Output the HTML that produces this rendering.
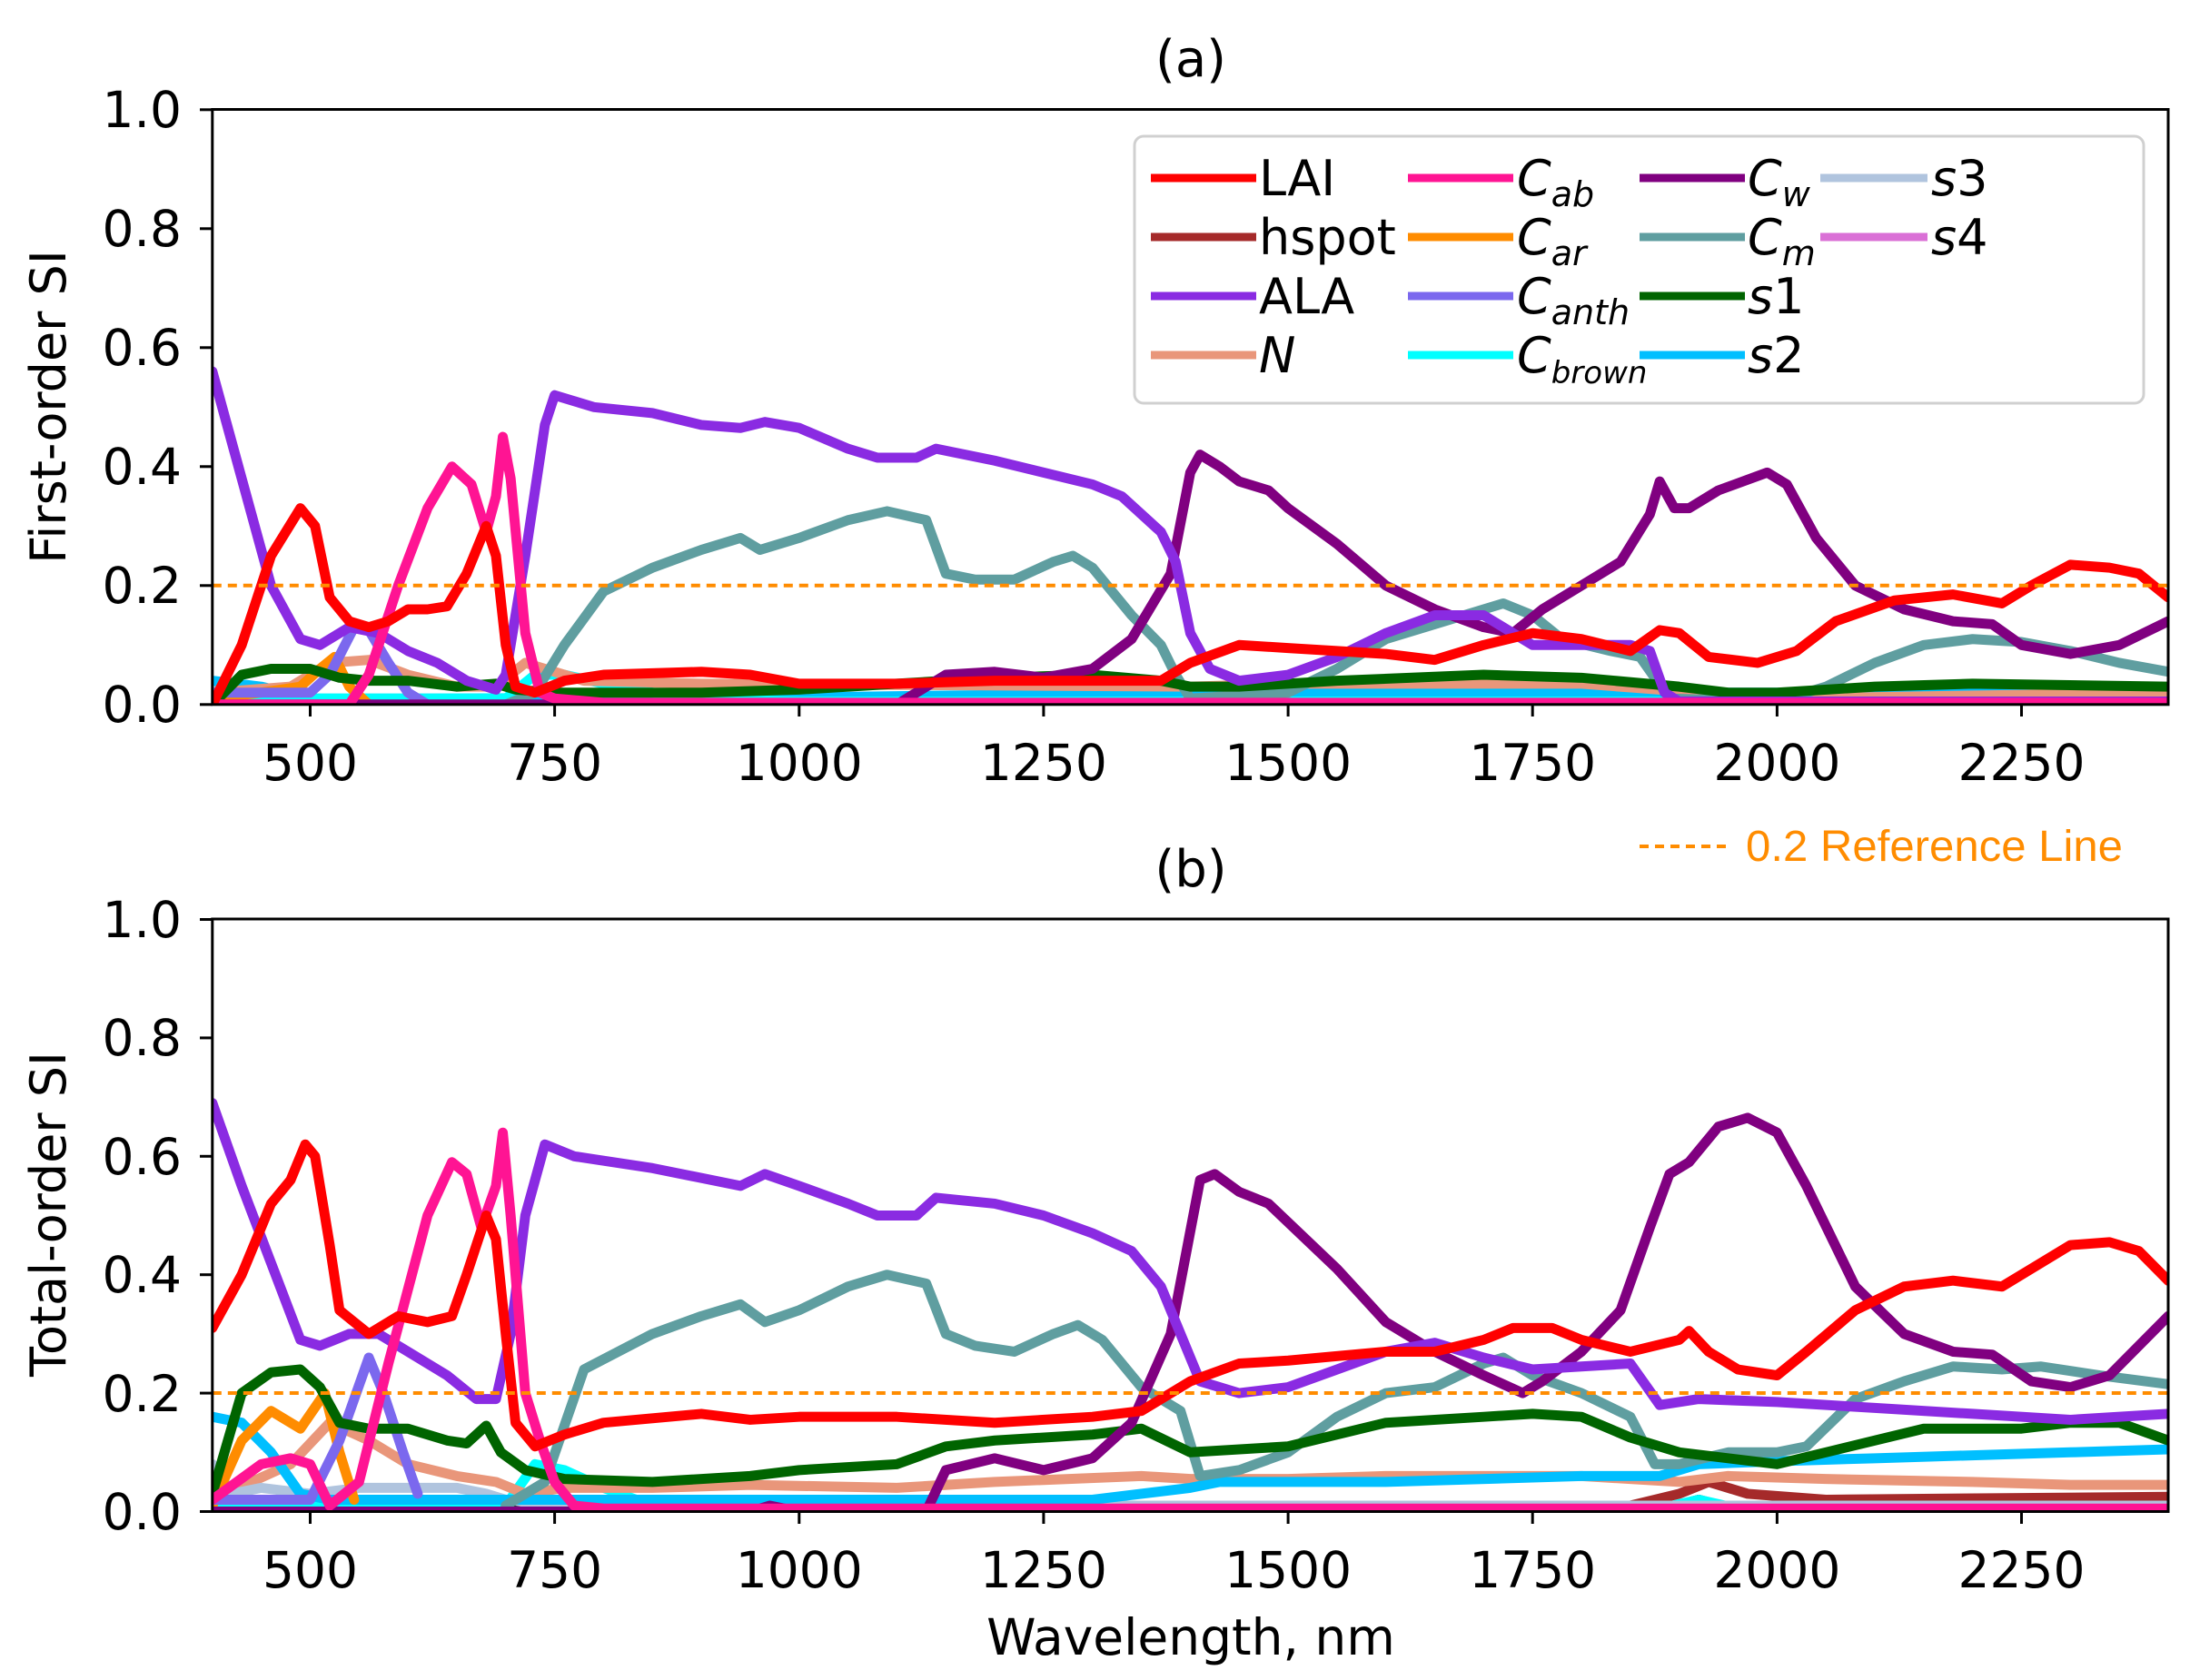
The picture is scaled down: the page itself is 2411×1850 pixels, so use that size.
<!DOCTYPE html>
<html><head><meta charset="utf-8"><style>
html,body{margin:0;padding:0;background:#fff}
svg{display:block}
text{font-family:"DejaVu Sans","Liberation Sans",sans-serif;fill:#000}
.d polyline{fill:none;stroke-width:11;stroke-linejoin:round;stroke-linecap:round;vector-effect:non-scaling-stroke}
</style></head><body>
<svg width="2411" height="1850" viewBox="0 0 2411 1850" xmlns="http://www.w3.org/2000/svg">
<defs>
<clipPath id="ca"><rect x="233.8" y="120" width="2153" height="656"/></clipPath>
<clipPath id="cb"><rect x="233.8" y="1012" width="2153" height="653"/></clipPath>
</defs>

<text x="1311" y="84" font-size="56" text-anchor="middle">(a)</text>
<text x="1311" y="976" font-size="56" text-anchor="middle">(b)</text>

<g clip-path="url(#ca)">
<g class="d" transform="translate(233.8,775.8) scale(1.0766,-655) translate(-400,0)">
<polyline stroke="#000" points="400,0 2400,0"/>
<polyline stroke="#a52a2a" points="400,0.003 2400,0.003"/>
<polyline stroke="#da70d6" points="400,0.004 2400,0.004"/>
<polyline stroke="#b0c4de" points="400,0.04 420,0.01 450,0.005 2400,0.005"/>
<polyline stroke="#00bfff" points="400,0.04 450,0.03 500,0.01 600,0.01 1000,0.012 1400,0.02 2400,0.02"/>
<polyline stroke="#00ffff" points="400,0.01 700,0.01 730,0.05 760,0.05 800,0.035 850,0.02 900,0.01 1000,0.005 2400,0.005"/>
<polyline stroke="#e9967a" points="400,0.02 480,0.03 520,0.07 560,0.075 600,0.05 650,0.03 690,0.03 720,0.07 740,0.06 780,0.04 900,0.035 1400,0.03 1500,0.035 1800,0.035 2000,0.01 2400,0.02"/>
<polyline stroke="#ff8c00" points="400,0.01 450,0.02 490,0.03 510,0.06 525,0.08 540,0.03 560,0.0"/>
<polyline stroke="#7b68ee" points="400,0.02 500,0.02 520,0.05 545,0.13 560,0.125 580,0.07 600,0.02 620,0.0"/>
<polyline stroke="#5f9ea0" points="700,0 730,0.02 760,0.1 800,0.19 850,0.23 900,0.26 940,0.28 960,0.26 1000,0.28 1050,0.31 1090,0.325 1130,0.31 1150,0.22 1180,0.21 1220,0.21 1260,0.24 1280,0.25 1300,0.23 1340,0.15 1370,0.1 1385,0.05 1400,0.01 1500,0.02 1550,0.06 1600,0.11 1650,0.135 1700,0.16 1720,0.17 1750,0.15 1780,0.11 1830,0.09 1860,0.08 1890,0.01 2000,0.005 2050,0.03 2100,0.07 2150,0.1 2200,0.11 2250,0.105 2300,0.09 2350,0.07 2400,0.055"/>
<polyline stroke="#006400" points="400,0.0 430,0.05 460,0.06 500,0.06 530,0.045 560,0.04 600,0.04 650,0.03 690,0.035 710,0.025 750,0.02 900,0.02 1000,0.025 1100,0.035 1200,0.045 1300,0.05 1370,0.04 1400,0.03 1450,0.03 1550,0.04 1700,0.05 1800,0.045 1900,0.03 1950,0.02 2000,0.02 2100,0.03 2200,0.035 2400,0.03"/>
<polyline stroke="#800080" points="400,0 1100,0 1150,0.05 1200,0.055 1250,0.045 1300,0.06 1340,0.11 1380,0.22 1400,0.39 1410,0.42 1430,0.4 1450,0.375 1480,0.36 1500,0.33 1550,0.27 1600,0.2 1650,0.16 1700,0.13 1730,0.12 1760,0.16 1800,0.2 1840,0.24 1870,0.32 1880,0.375 1895,0.33 1910,0.33 1940,0.36 1990,0.39 2010,0.37 2040,0.28 2080,0.2 2130,0.16 2180,0.14 2220,0.135 2250,0.1 2300,0.085 2350,0.1 2400,0.14"/>
<polyline stroke="#8a2be2" points="400,0.56 430,0.38 460,0.2 490,0.11 510,0.1 540,0.13 570,0.12 600,0.09 630,0.07 660,0.04 680,0.03 690,0.025 700,0.05 720,0.25 740,0.47 750,0.52 770,0.51 790,0.5 850,0.49 900,0.47 940,0.465 965,0.475 1000,0.465 1050,0.43 1080,0.415 1120,0.415 1140,0.43 1200,0.41 1250,0.39 1300,0.37 1330,0.35 1370,0.29 1385,0.24 1400,0.12 1420,0.06 1450,0.04 1500,0.05 1550,0.08 1600,0.12 1650,0.15 1700,0.15 1750,0.1 1800,0.1 1850,0.1 1870,0.09 1885,0.02 1900,0.005 2400,0.005"/>
<polyline stroke="#ff1493" points="400,0 540,0 560,0.05 590,0.2 620,0.33 645,0.4 665,0.37 680,0.29 690,0.35 697,0.45 705,0.38 720,0.12 735,0.02 750,0.01 800,0.003 2400,0.003"/>
<polyline stroke="#ff0000" points="400,0.0 430,0.1 460,0.25 490,0.33 505,0.3 520,0.18 540,0.14 560,0.13 580,0.14 600,0.16 620,0.16 640,0.165 660,0.22 680,0.3 690,0.25 700,0.1 710,0.03 730,0.02 760,0.04 800,0.05 900,0.055 950,0.05 1000,0.035 1100,0.035 1200,0.04 1300,0.04 1370,0.04 1400,0.07 1450,0.1 1500,0.095 1550,0.09 1600,0.085 1650,0.075 1700,0.1 1750,0.12 1800,0.11 1850,0.09 1880,0.125 1900,0.12 1930,0.08 1980,0.07 2020,0.09 2060,0.14 2120,0.175 2180,0.185 2230,0.17 2260,0.2 2300,0.235 2340,0.23 2370,0.22 2400,0.18"/>
</g>
<line x1="233.8" y1="644.8" x2="2387" y2="644.8" stroke="#ff8c00" stroke-width="4" stroke-dasharray="10,7"/>
</g>

<g clip-path="url(#cb)">
<g class="d" transform="translate(233.8,1664.5) scale(1.0766,-652) translate(-400,0)">
<polyline stroke="#a52a2a" points="400,0.01 1850,0.01 1900,0.03 1930,0.05 1970,0.03 2050,0.02 2400,0.025"/>
<polyline stroke="#da70d6" points="400,0.01 2400,0.008"/>
<polyline stroke="#000" points="400,0.003 660,0.003 680,0.02 700,0.003 1880,0.003 1920,0.02 1960,0.003 2400,0.003"/>
<polyline stroke="#00ffff" points="400,0.01 700,0.01 730,0.08 760,0.07 800,0.04 850,0.01 900,0.005 1880,0.005 1920,0.02 1960,0.005 2400,0.005"/>
<polyline stroke="#e9967a" points="400,0.02 480,0.08 520,0.15 560,0.12 600,0.08 650,0.06 690,0.05 720,0.03 760,0.04 850,0.04 950,0.045 1100,0.04 1200,0.05 1350,0.06 1400,0.055 1500,0.055 1600,0.06 1800,0.06 1900,0.05 1950,0.06 2050,0.055 2200,0.05 2300,0.045 2400,0.045"/>
<polyline stroke="#b0c4de" points="400,0.08 420,0.03 450,0.04 500,0.03 550,0.04 650,0.04 680,0.03 700,0.02 750,0.01 2400,0.01"/>
<polyline stroke="#00bfff" points="400,0.16 430,0.15 460,0.1 490,0.03 520,0.02 700,0.02 1300,0.02 1400,0.04 1430,0.05 1600,0.05 1800,0.06 1880,0.06 1920,0.08 2000,0.085 2100,0.09 2300,0.1 2400,0.105"/>
<polyline stroke="#ff8c00" points="400,0.01 430,0.12 460,0.17 490,0.14 515,0.2 530,0.1 545,0.02"/>
<polyline stroke="#7b68ee" points="400,0.02 500,0.02 530,0.12 560,0.26 575,0.2 595,0.1 610,0.03"/>
<polyline stroke="#5f9ea0" points="700,0.01 740,0.05 780,0.24 850,0.3 900,0.33 940,0.35 965,0.32 1000,0.34 1050,0.38 1090,0.4 1130,0.385 1150,0.3 1180,0.28 1220,0.27 1260,0.3 1285,0.315 1310,0.29 1350,0.21 1390,0.17 1410,0.06 1450,0.07 1500,0.1 1550,0.16 1600,0.2 1650,0.21 1700,0.25 1720,0.26 1750,0.23 1800,0.2 1850,0.16 1875,0.08 1900,0.08 1950,0.1 2000,0.1 2030,0.11 2080,0.19 2130,0.22 2180,0.245 2230,0.24 2270,0.245 2330,0.23 2400,0.215"/>
<polyline stroke="#006400" points="400,0.03 430,0.2 460,0.235 490,0.24 510,0.21 530,0.15 560,0.14 600,0.14 640,0.12 660,0.115 680,0.145 695,0.1 720,0.07 760,0.055 850,0.05 950,0.06 1000,0.07 1100,0.08 1150,0.11 1200,0.12 1300,0.13 1350,0.14 1400,0.1 1500,0.11 1600,0.15 1700,0.16 1750,0.165 1800,0.16 1850,0.125 1900,0.1 2000,0.08 2050,0.1 2100,0.12 2150,0.14 2250,0.14 2300,0.15 2350,0.15 2400,0.12"/>
<polyline stroke="#800080" points="400,0 950,0 970,0.01 1000,0 1130,0 1150,0.07 1200,0.09 1250,0.07 1300,0.09 1340,0.15 1380,0.3 1410,0.56 1425,0.57 1450,0.54 1480,0.52 1550,0.41 1600,0.32 1650,0.27 1700,0.23 1740,0.2 1760,0.22 1800,0.27 1840,0.34 1870,0.48 1890,0.57 1910,0.59 1940,0.65 1970,0.665 2000,0.64 2030,0.55 2080,0.38 2130,0.3 2180,0.27 2220,0.265 2260,0.22 2300,0.21 2340,0.23 2400,0.33"/>
<polyline stroke="#8a2be2" points="400,0.69 430,0.55 460,0.42 490,0.29 510,0.28 540,0.3 570,0.3 600,0.27 640,0.23 670,0.19 690,0.19 705,0.3 720,0.5 740,0.62 770,0.6 850,0.58 940,0.55 965,0.57 1000,0.55 1050,0.52 1080,0.5 1120,0.5 1140,0.53 1200,0.52 1250,0.5 1300,0.47 1340,0.44 1370,0.38 1390,0.3 1410,0.22 1450,0.2 1500,0.21 1550,0.24 1600,0.27 1650,0.285 1700,0.26 1750,0.24 1800,0.245 1850,0.25 1880,0.18 1920,0.19 2000,0.185 2100,0.175 2200,0.165 2300,0.155 2400,0.165"/>
<polyline stroke="#ff1493" points="400,0.02 450,0.08 480,0.09 500,0.08 520,0.01 550,0.05 580,0.25 620,0.5 645,0.59 660,0.57 675,0.48 690,0.55 697,0.64 705,0.5 720,0.2 735,0.12 750,0.05 770,0.01 800,0.005 2400,0.005"/>
<polyline stroke="#ff0000" points="400,0.31 430,0.4 460,0.52 480,0.56 495,0.62 505,0.6 520,0.45 530,0.34 545,0.32 560,0.3 590,0.33 620,0.32 645,0.33 660,0.4 680,0.5 690,0.46 700,0.3 710,0.15 730,0.11 760,0.13 800,0.15 900,0.165 950,0.155 1000,0.16 1100,0.16 1200,0.15 1300,0.16 1350,0.17 1400,0.22 1450,0.25 1500,0.255 1600,0.27 1650,0.27 1700,0.29 1730,0.31 1770,0.31 1800,0.29 1850,0.27 1900,0.29 1910,0.305 1930,0.27 1960,0.24 2000,0.23 2030,0.27 2080,0.34 2130,0.38 2180,0.39 2230,0.38 2260,0.41 2300,0.45 2340,0.455 2370,0.44 2400,0.39"/>
</g>
<line x1="233.8" y1="1534" x2="2387" y2="1534" stroke="#ff8c00" stroke-width="4" stroke-dasharray="10,7"/>
</g>

<g fill="none" stroke="#000" stroke-width="3">
<rect x="233.8" y="120.5" width="2153.2" height="655.3"/>
<rect x="233.8" y="1012" width="2153.2" height="652.5"/>
</g>

<g stroke="#000" stroke-width="3">
<line x1="220" y1="775.8" x2="233.8" y2="775.8"/><line x1="220" y1="644.8" x2="233.8" y2="644.8"/><line x1="220" y1="513.8" x2="233.8" y2="513.8"/><line x1="220" y1="382.8" x2="233.8" y2="382.8"/><line x1="220" y1="251.8" x2="233.8" y2="251.8"/><line x1="220" y1="120.8" x2="233.8" y2="120.8"/>
<line x1="341.5" y1="775.8" x2="341.5" y2="789"/><line x1="610.6" y1="775.8" x2="610.6" y2="789"/><line x1="879.8" y1="775.8" x2="879.8" y2="789"/><line x1="1148.9" y1="775.8" x2="1148.9" y2="789"/><line x1="1418.1" y1="775.8" x2="1418.1" y2="789"/><line x1="1687.2" y1="775.8" x2="1687.2" y2="789"/><line x1="1956.4" y1="775.8" x2="1956.4" y2="789"/><line x1="2225.5" y1="775.8" x2="2225.5" y2="789"/>
<line x1="220" y1="1664.5" x2="233.8" y2="1664.5"/><line x1="220" y1="1534.1" x2="233.8" y2="1534.1"/><line x1="220" y1="1403.7" x2="233.8" y2="1403.7"/><line x1="220" y1="1273.3" x2="233.8" y2="1273.3"/><line x1="220" y1="1142.9" x2="233.8" y2="1142.9"/><line x1="220" y1="1012.5" x2="233.8" y2="1012.5"/>
<line x1="341.5" y1="1664.5" x2="341.5" y2="1678"/><line x1="610.6" y1="1664.5" x2="610.6" y2="1678"/><line x1="879.8" y1="1664.5" x2="879.8" y2="1678"/><line x1="1148.9" y1="1664.5" x2="1148.9" y2="1678"/><line x1="1418.1" y1="1664.5" x2="1418.1" y2="1678"/><line x1="1687.2" y1="1664.5" x2="1687.2" y2="1678"/><line x1="1956.4" y1="1664.5" x2="1956.4" y2="1678"/><line x1="2225.5" y1="1664.5" x2="2225.5" y2="1678"/>
</g>
<g font-size="55" text-anchor="end">
<text x="200" y="795">0.0</text><text x="200" y="664">0.2</text><text x="200" y="533">0.4</text><text x="200" y="402">0.6</text><text x="200" y="271">0.8</text><text x="200" y="140">1.0</text>
<text x="200" y="1684">0.0</text><text x="200" y="1554">0.2</text><text x="200" y="1423">0.4</text><text x="200" y="1293">0.6</text><text x="200" y="1162">0.8</text><text x="200" y="1032">1.0</text>
</g>
<g font-size="55" text-anchor="middle">
<text x="341.5" y="859">500</text><text x="610.6" y="859">750</text><text x="879.8" y="859">1000</text><text x="1148.9" y="859">1250</text><text x="1418.1" y="859">1500</text><text x="1687.2" y="859">1750</text><text x="1956.4" y="859">2000</text><text x="2225.5" y="859">2250</text>
<text x="341.5" y="1748">500</text><text x="610.6" y="1748">750</text><text x="879.8" y="1748">1000</text><text x="1148.9" y="1748">1250</text><text x="1418.1" y="1748">1500</text><text x="1687.2" y="1748">1750</text><text x="1956.4" y="1748">2000</text><text x="2225.5" y="1748">2250</text>
<text x="1311" y="1822" font-size="55">Wavelength, nm</text>
<text transform="translate(72,448) rotate(-90)" font-size="54">First-order SI</text>
<text transform="translate(72,1337) rotate(-90)" font-size="54">Total-order SI</text>
</g>

<rect x="1249" y="150" width="1111" height="294" rx="10" fill="#fff" fill-opacity="0.85" stroke="#d0d0d0" stroke-width="3"/>
<g stroke-width="9">
<line x1="1267" y1="196" x2="1383" y2="196" stroke="#ff0000"/>
<line x1="1267" y1="261" x2="1383" y2="261" stroke="#a52a2a"/>
<line x1="1267" y1="326" x2="1383" y2="326" stroke="#8a2be2"/>
<line x1="1267" y1="391" x2="1383" y2="391" stroke="#e9967a"/>
<line x1="1550" y1="196" x2="1666" y2="196" stroke="#ff1493"/>
<line x1="1550" y1="261" x2="1666" y2="261" stroke="#ff8c00"/>
<line x1="1550" y1="326" x2="1666" y2="326" stroke="#7b68ee"/>
<line x1="1550" y1="391" x2="1666" y2="391" stroke="#00ffff"/>
<line x1="1805" y1="196" x2="1921" y2="196" stroke="#800080"/>
<line x1="1805" y1="261" x2="1921" y2="261" stroke="#5f9ea0"/>
<line x1="1805" y1="326" x2="1921" y2="326" stroke="#006400"/>
<line x1="1805" y1="391" x2="1921" y2="391" stroke="#00bfff"/>
<line x1="2004" y1="196" x2="2122" y2="196" stroke="#b0c4de"/>
<line x1="2004" y1="261" x2="2122" y2="261" stroke="#da70d6"/>
</g>
<g font-size="54">
<text x="1386" y="215">LAI</text>
<text x="1386" y="280">hspot</text>
<text x="1386" y="345">ALA</text>
<text x="1386" y="410" font-style="italic">N</text>
<text x="1670" y="215" font-style="italic">C<tspan font-size="38" dy="12">ab</tspan></text>
<text x="1670" y="280" font-style="italic">C<tspan font-size="38" dy="12">ar</tspan></text>
<text x="1670" y="345" font-style="italic">C<tspan font-size="38" dy="12">anth</tspan></text>
<text x="1670" y="410" font-style="italic">C<tspan font-size="34" dy="12">brown</tspan></text>
<text x="1924" y="215" font-style="italic">C<tspan font-size="38" dy="12">w</tspan></text>
<text x="1924" y="280" font-style="italic">C<tspan font-size="38" dy="12">m</tspan></text>
<text x="1924" y="345" font-style="italic">s<tspan font-style="normal">1</tspan></text>
<text x="1924" y="410" font-style="italic">s<tspan font-style="normal">2</tspan></text>
<text x="2126" y="215" font-style="italic">s<tspan font-style="normal">3</tspan></text>
<text x="2126" y="280" font-style="italic">s<tspan font-style="normal">4</tspan></text>
</g>

<line x1="1805" y1="932" x2="1903" y2="932" stroke="#ff8c00" stroke-width="4" stroke-dasharray="10,7"/>
<text x="1922" y="948" font-size="48" style="fill:#ff8c00;font-family:'Liberation Sans Narrow','Liberation Sans',sans-serif" textLength="415" lengthAdjust="spacingAndGlyphs">0.2 Reference Line</text>
</svg>
</body></html>
